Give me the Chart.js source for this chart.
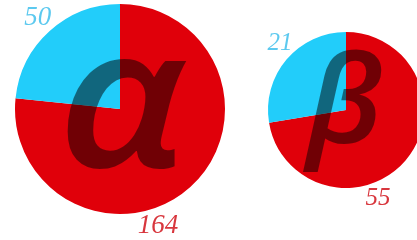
<!DOCTYPE html>
<html>
<head>
<meta charset="utf-8">
<script src="https://cdn.jsdelivr.net/npm/chart.js@4/dist/chart.umd.min.js"></script>
<style>
  html, body { margin: 0; padding: 0; background: #fff; overflow: hidden; width: 417px; height: 240px; }
  canvas { position: absolute; top: 0; }
  #alphaChart { left: 0; }
  #betaChart { left: 240px; }
</style>
</head>
<body>
<canvas id="alphaChart" width="240" height="240"></canvas>
<canvas id="betaChart" width="212" height="240"></canvas>
<script>
// Data for the two pies
const categories = ["red", "blue"];
const alphaValues = [164, 50];
const betaValues = [55, 21];
const symbols = ["\u03B1", "\u03B2"];

const sliceColors = ["#e0000a", "#22cdfa"];
const labelColors = ["#d8363d", "#5cc9ef"];

const deg = (d) => (d * Math.PI) / 180;

// Draws the value labels and the big Greek letter on top of the pie
const overlayPlugin = {
  id: "overlay",
  afterDraw(chart, args, opts) {
    const ctx = chart.ctx;
    const arcs = chart.getDatasetMeta(0).data;
    const cx = arcs[0].x;
    const cy = arcs[0].y;
    const r = arcs[0].outerRadius;

    // Greek letter (slightly stretched sideways)
    ctx.save();
    ctx.fillStyle = "rgba(0, 0, 0, 0.5)";
    ctx.font = opts.symbolFont;
    ctx.textAlign = "center";
    ctx.textBaseline = "alphabetic";
    ctx.translate(cx + opts.symbolDx, cy + opts.symbolDy);
    ctx.scale(opts.symbolStretch, 1);
    ctx.fillText(opts.symbol, 0, 0);
    ctx.restore();

    // Value labels
    ctx.save();
    ctx.font = "italic " + opts.labelSize + "px 'Liberation Serif', serif";
    ctx.textAlign = "center";
    ctx.textBaseline = "middle";
    arcs.forEach((arc, i) => {
      let angle = (arc.startAngle + arc.endAngle) / 2 + opts.angleShift[i];
      if (i === 0) angle = opts.redAngle;
      const d = r * opts.labelDist[i];
      ctx.fillStyle = labelColors[i];
      ctx.fillText(chart.data.datasets[0].data[i], cx + Math.cos(angle) * d, cy + Math.sin(angle) * d);
    });
    ctx.restore();
  },
};

const createPie = (id, values, padding, overlay) => {
  const ctx = document.getElementById(id).getContext("2d");
  new Chart(ctx, {
    type: "pie",
    data: {
      labels: categories,
      datasets: [
        {
          data: values,
          backgroundColor: sliceColors,
          borderWidth: 0,
        },
      ],
    },
    options: {
      responsive: false,
      animation: false,
      layout: { padding: padding },
      plugins: {
        legend: { display: false },
        tooltip: { enabled: false },
        overlay: overlay,
      },
    },
    plugins: [overlayPlugin],
  });
};

createPie(
  "alphaChart",
  alphaValues,
  { left: 15, right: 15, top: 4, bottom: 26 },
  {
    symbol: symbols[0],
    symbolFont: "italic 600 196px 'Open Sans'",
    symbolStretch: 1.12,
    symbolDx: 2,
    symbolDy: 58,
    labelSize: 27,
    labelDist: [1.17, 1.17],
    angleShift: [0, 0],
    redAngle: deg(72),
  }
);

createPie(
  "betaChart",
  betaValues,
  { left: 28, right: 28, top: 32, bottom: 52 },
  {
    symbol: symbols[1],
    symbolFont: "italic 600 122px 'Open Sans'",
    symbolStretch: 1.05,
    symbolDx: -1,
    symbolDy: 33,
    labelSize: 25,
    labelDist: [1.2, 1.2],
    angleShift: [0, deg(5)],
    redAngle: deg(70),
  }
);
</script>
</body>
</html>
